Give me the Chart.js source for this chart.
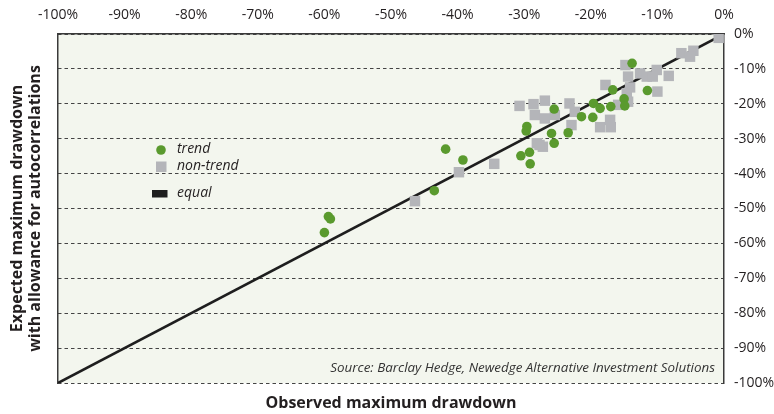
<!DOCTYPE html>
<html>
<head>
<meta charset="utf-8">
<script src="https://cdn.jsdelivr.net/npm/chart.js@4"></script>
<style>
  html, body { margin: 0; padding: 0; background: #fff; }
</style>
</head>
<body>
<canvas id="dd" width="774" height="414"></canvas>
<script>
// axis ticks (percent)
const pctTicks = [-100, -90, -80, -70, -60, -50, -40, -30, -20, -10, 0];

// trend funds: observed vs expected max drawdown
const trendX = [-13.8, -16.7, -11.5, -15.0, -14.9, -17.0, -19.6, -18.6, -19.7, -21.4, -23.4, -25.5, -25.9,
                -25.5, -29.6, -29.7, -29.2, -30.5, -29.1, -41.8, -39.2, -43.5, -59.4, -59.1, -60.0];
const trendY = [-8.4, -16.0, -16.2, -18.6, -20.6, -20.8, -19.9, -21.3, -23.9, -23.7, -28.3, -21.5, -28.5,
                -31.3, -26.5, -27.8, -33.9, -34.9, -37.2, -33.0, -36.1, -44.9, -52.3, -53.0, -56.9];

// non-trend funds
const nonTrendX = [-0.8, -6.4, -4.6, -5.1, -14.8, -14.4, -12.6, -11.6, -10.1, -10.7, -8.3, -10.0, -17.8,
                   -14.1, -14.6, -14.4, -15.9, -30.7, -28.6, -26.9, -28.4, -26.9, -25.4, -23.2, -22.9,
                   -22.4, -18.6, -17.0, -17.1, -28.1, -27.2, -27.7, -34.5, -39.8, -46.4];
const nonTrendY = [-1.1, -5.5, -4.8, -6.5, -8.9, -12.2, -11.3, -12.2, -10.3, -12.2, -12.0, -16.5, -14.6,
                   -15.3, -17.0, -19.4, -20.3, -20.6, -20.1, -19.1, -23.2, -24.2, -23.2, -19.9, -26.1,
                   -22.3, -26.7, -26.7, -24.6, -31.3, -32.3, -31.8, -37.2, -39.6, -47.9];

// equality line
const equalX = [-100, 0];
const equalY = [-100, 0];

const seriesNames = ['trend', 'non-trend', 'equal'];
const sourceNote = 'Source: Barclay Hedge, Newedge Alternative Investment Solutions';

const GREEN = '#5a9a2e';
const GREY = '#b4b5b9';
const INK = '#231f20';

const pairs = (xs, ys) => xs.map((x, i) => ({ x: x, y: ys[i] }));
const pct = v => v + '%';

// plot background, legend and source note
const frame = {
    id: 'frame',
    beforeDraw(chart) {
        const { ctx, chartArea: a } = chart;
        ctx.save();
        ctx.fillStyle = '#f3f6ee';
        ctx.fillRect(a.left, a.top, a.right - a.left, a.bottom - a.top);
        ctx.restore();
    },
    afterDraw(chart) {
        const { ctx, chartArea: a } = chart;
        ctx.save();
        ctx.font = 'italic 14px "Open Sans"';
        ctx.textBaseline = 'middle';
        ctx.textAlign = 'left';

        ctx.fillStyle = GREEN;
        ctx.beginPath();
        ctx.arc(161, 150, 4.8, 0, Math.PI * 2);
        ctx.fill();
        ctx.fillStyle = GREY;
        ctx.fillRect(156, 161.5, 10.5, 10.5);
        ctx.fillStyle = '#1e1e1e';
        ctx.fillRect(152, 190, 15.5, 7.5);

        ctx.fillStyle = INK;
        ctx.fillText(seriesNames[0], 177, 149);
        ctx.fillText(seriesNames[1], 177, 166);
        ctx.fillText(seriesNames[2], 177, 193);

        ctx.font = 'italic 13.4px "Open Sans"';
        ctx.textAlign = 'right';
        ctx.fillStyle = '#333';
        ctx.fillText(sourceNote, a.right - 9, 368);
        ctx.restore();
    }
};

const ctx = document.getElementById('dd').getContext('2d');
const chart = new Chart(ctx, {
    type: 'scatter',
    data: {
        datasets: [
            {
                label: seriesNames[0],
                data: pairs(trendX, trendY),
                pointStyle: 'circle',
                pointRadius: 4.8,
                pointHoverRadius: 4.8,
                backgroundColor: GREEN,
                borderWidth: 0,
                order: 0
            },
            {
                label: seriesNames[1],
                data: pairs(nonTrendX, nonTrendY),
                pointStyle: 'rect',
                pointRadius: 7.4,
                pointHoverRadius: 7.4,
                backgroundColor: GREY,
                borderWidth: 0,
                order: 1
            },
            {
                label: seriesNames[2],
                type: 'line',
                data: pairs(equalX, equalY),
                borderColor: '#1e1e1e',
                borderWidth: 2.6,
                pointRadius: 0,
                fill: false,
                order: 2
            }
        ]
    },
    options: {
        responsive: false,
        animation: false,
        layout: { padding: 0 },
        plugins: {
            legend: { display: false },
            tooltip: { enabled: false }
        },
        scales: {
            x: {
                type: 'linear',
                position: 'top',
                min: -100,
                max: 0,
                afterBuildTicks: s => { s.ticks = pctTicks.map(v => ({ value: v })); },
                afterFit: s => { s.height = 34; },
                ticks: {
                    callback: pct,
                    padding: 10.5,
                    maxRotation: 0,
                    autoSkip: false,
                    color: INK,
                    font: { family: 'Open Sans', size: 14 }
                },
                grid: { display: false, drawTicks: false },
                border: { display: true, color: '#3a3a3a', width: 1.5 }
            },
            xb: {
                type: 'linear',
                position: 'bottom',
                min: -100,
                max: 0,
                afterFit: s => { s.height = 31; },
                ticks: { display: false },
                grid: { display: false, drawTicks: false },
                border: { display: false },
                title: {
                    display: true,
                    text: 'Observed maximum drawdown',
                    color: INK,
                    font: { family: 'Open Sans', size: 16, weight: 'bold' },
                    padding: { top: 0, bottom: 1 }
                }
            },
            y: {
                type: 'linear',
                position: 'right',
                min: -100,
                max: 0,
                afterBuildTicks: s => { s.ticks = pctTicks.map(v => ({ value: v })); },
                afterFit: s => { s.width = 50; },
                ticks: {
                    callback: pct,
                    padding: 10,
                    autoSkip: false,
                    color: INK,
                    font: { family: 'Open Sans', size: 14 }
                },
                grid: { display: true, drawTicks: false, color: '#444', lineWidth: 1 },
                border: { display: true, color: '#3a3a3a', width: 1.5, dash: [3.5, 3] }
            },
            yl: {
                type: 'linear',
                position: 'left',
                min: -100,
                max: 0,
                afterFit: s => { s.width = 58; },
                ticks: { display: false },
                grid: { display: false, drawTicks: false },
                border: { display: true, color: '#3a3a3a', width: 1.5 },
                title: {
                    display: true,
                    text: ['Expected maximum drawdown', 'with allowance for autocorrelations'],
                    color: INK,
                    font: { family: 'Open Sans', size: 16, weight: 'bold', lineHeight: 1.125 },
                    padding: { top: 8, bottom: 0 }
                }
            }
        }
    },
    plugins: [frame]
});
</script>
</body>
</html>
